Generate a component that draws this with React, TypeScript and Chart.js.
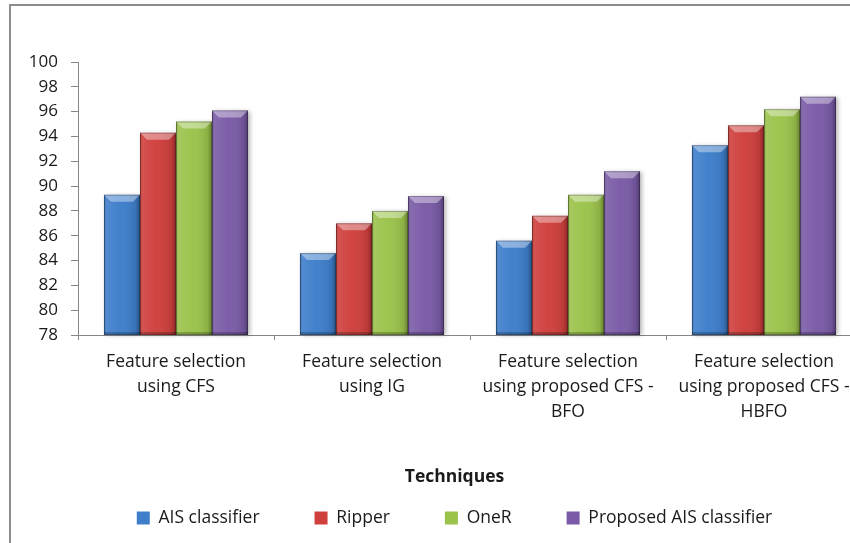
import React, { useEffect, useRef } from "react";
import { Chart, registerables } from "chart.js";

Chart.register(...registerables);

// Categories (multi-line tick labels)
const categories: string[][] = [
  ["Feature selection", "using CFS"],
  ["Feature selection", "using IG"],
  ["Feature selection", "using proposed CFS -", "BFO"],
  ["Feature selection", "using proposed CFS -", "HBFO"],
];

// Accuracy (%) per technique
const aisClassifier = [89.3, 84.6, 85.6, 93.3];
const ripper = [94.3, 87.0, 87.6, 94.9];
const oneR = [95.2, 88.0, 89.3, 96.2];
const proposedAis = [96.1, 89.2, 91.2, 97.2];

const seriesNames = ["AIS classifier", "Ripper", "OneR", "Proposed AIS classifier"];
const seriesColors = ["#3e7ecb", "#cf3f3c", "#9bc34b", "#7a5ba7"];

const yMin = 78;
const yMax = 100;
const yStep = 2;

const axisTitle = "Techniques";

const FONT = "'Open Sans', sans-serif";
const TEXT = "#1a1a1a";
const AXIS = "#868686";

// Bar rectangle in pixels, clipped to the plot area
function barRect(chart: any, el: any) {
  const { x, y, width, base } = el.getProps(["x", "y", "width", "base"], true);
  const bottom = Math.min(base, chart.chartArea.bottom);
  return { l: x - width / 2, r: x + width / 2, t: y, b: bottom, w: width };
}

// Soft drop shadow under each bar plus a bevel overlay on top of it
const bevelPlugin = {
  id: "bevel",
  beforeDatasetsDraw(chart: any) {
    const ctx = chart.ctx as CanvasRenderingContext2D;
    ctx.save();
    ctx.fillStyle = "rgba(0,0,0,0.28)";
    ctx.filter = "blur(2px)";
    chart.data.datasets.forEach((_: any, di: number) => {
      const meta = chart.getDatasetMeta(di);
      if (meta.hidden) return;
      meta.data.forEach((el: any) => {
        const { l, t, b, w } = barRect(chart, el);
        ctx.fillRect(l + 2, t + 1, w, b - t - 1);
      });
    });
    ctx.restore();
  },
  afterDatasetsDraw(chart: any) {
    const ctx = chart.ctx as CanvasRenderingContext2D;
    ctx.save();
    chart.data.datasets.forEach((_: any, di: number) => {
      const meta = chart.getDatasetMeta(di);
      if (meta.hidden) return;
      meta.data.forEach((el: any) => {
        const { l, r, t, b, w } = barRect(chart, el);
        // horizontal shading
        const g = ctx.createLinearGradient(l, 0, r, 0);
        g.addColorStop(0, "rgba(0,0,0,0.28)");
        g.addColorStop(0.07, "rgba(255,255,255,0.10)");
        g.addColorStop(0.45, "rgba(255,255,255,0.02)");
        g.addColorStop(0.88, "rgba(0,0,0,0.10)");
        g.addColorStop(1, "rgba(0,0,0,0.35)");
        ctx.fillStyle = g;
        ctx.fillRect(l, t, w, b - t);
        // top bevel
        const bv = Math.min(7, (b - t) / 2);
        ctx.beginPath();
        ctx.moveTo(l, t);
        ctx.lineTo(r, t);
        ctx.lineTo(r - bv, t + bv);
        ctx.lineTo(l + bv, t + bv);
        ctx.closePath();
        ctx.fillStyle = "rgba(255,255,255,0.38)";
        ctx.fill();
        // bottom edge
        ctx.fillStyle = "rgba(0,0,0,0.22)";
        ctx.fillRect(l, b - 3, w, 3);
        // outline
        ctx.strokeStyle = "rgba(0,0,0,0.25)";
        ctx.lineWidth = 1;
        ctx.strokeRect(l + 0.5, t + 0.5, w - 1, b - t - 1);
      });
    });
    ctx.restore();
  },
};

export default function App() {
  const canvasRef = useRef<HTMLCanvasElement | null>(null);

  useEffect(() => {
    if (!canvasRef.current) return;
    const seriesData = [aisClassifier, ripper, oneR, proposedAis];
    const chart = new Chart(canvasRef.current, {
      type: "bar",
      data: {
        labels: categories,
        datasets: seriesData.map((d, i) => ({
          label: seriesNames[i],
          data: d,
          backgroundColor: seriesColors[i],
          borderWidth: 0,
          categoryPercentage: 0.735,
          barPercentage: 1,
        })),
      },
      options: {
        responsive: false,
        animation: false,
        devicePixelRatio: 1,
        layout: { padding: { top: 62, bottom: 6.25, left: 20, right: 0 } },
        scales: {
          x: {
            grid: {
              display: true,
              drawOnChartArea: false,
              drawTicks: true,
              tickLength: 5,
              color: AXIS,
            },
            border: { display: true, color: AXIS, width: 1 },
            ticks: {
              autoSkip: false,
              maxRotation: 0,
              padding: 9.5,
              color: TEXT,
              font: { family: FONT, size: 17.5, lineHeight: 25 / 17.5 },
            },
            afterFit(scale: any) {
              scale.height = 133.25;
            },
          },
          y: {
            min: yMin,
            max: yMax,
            grid: {
              display: true,
              drawOnChartArea: false,
              drawTicks: true,
              tickLength: 7,
              color: AXIS,
            },
            border: { display: true, color: AXIS, width: 1 },
            ticks: {
              stepSize: yStep,
              padding: 13,
              color: TEXT,
              font: { family: FONT, size: 17 },
            },
            afterFit(scale: any) {
              scale.width = 58;
            },
          },
          // empty right-hand margin of the chart frame (beyond the visible edge)
          yRight: {
            position: "right",
            display: true,
            grid: { display: false },
            border: { display: false },
            ticks: { display: false },
            afterFit(scale: any) {
              scale.width = 27;
            },
          },
        },
        plugins: {
          tooltip: { enabled: false },
          legend: {
            position: "bottom",
            align: "center",
            title: {
              display: true,
              text: axisTitle,
              color: TEXT,
              font: { family: FONT, size: 17.5, weight: "bold", lineHeight: 1.2 },
              padding: { top: 0, bottom: -35 },
            },
            labels: {
              boxWidth: 13,
              boxHeight: 13,
              padding: 55,
              color: TEXT,
              font: { family: FONT, size: 17.5 },
            },
          },
        },
      },
      plugins: [bevelPlugin],
    } as any);
    return () => chart.destroy();
  }, []);

  return (
    <div
      style={{
        position: "fixed",
        left: 0,
        top: 0,
        width: 850,
        height: 543,
        overflow: "hidden",
        background: "#ffffff",
      }}
    >
      <canvas ref={canvasRef} width={889} height={543} style={{ display: "block" }} />
      <div
        style={{
          position: "absolute",
          left: 9,
          top: 4,
          width: 900,
          height: 600,
          borderLeft: "2px solid #8c8c8c",
          borderTop: "2px solid #8c8c8c",
          pointerEvents: "none",
        }}
      />
    </div>
  );
}
